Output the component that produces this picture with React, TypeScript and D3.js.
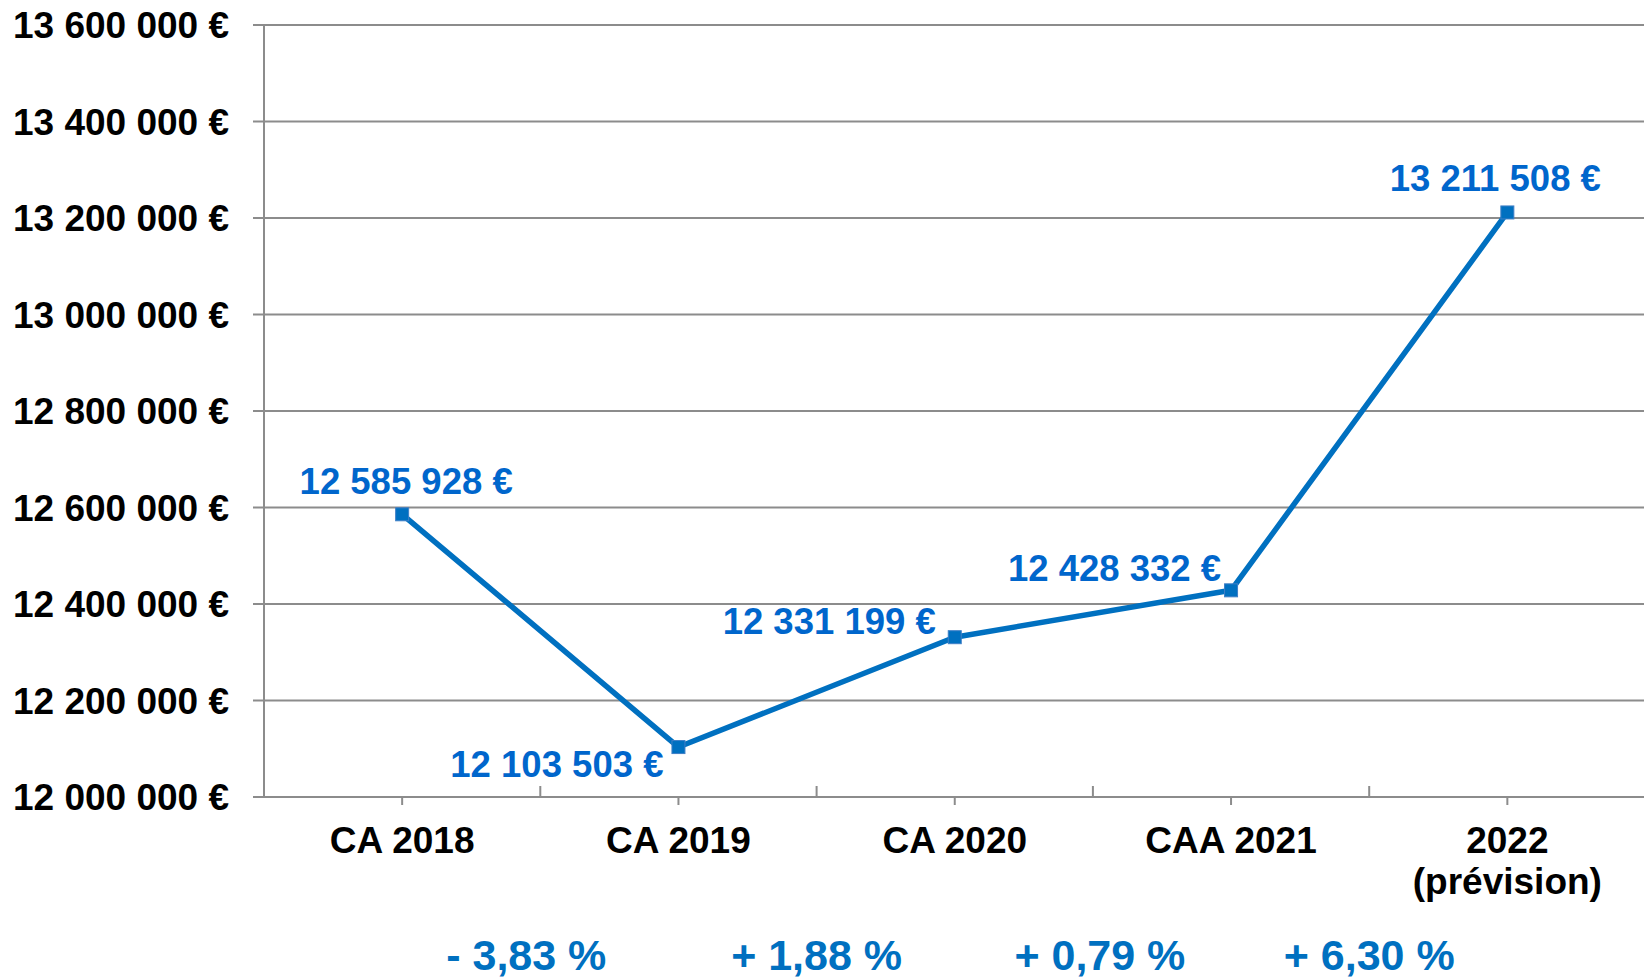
import React from "react";
import * as d3 from "d3";

const categories: string[][] = [["CA 2018"], ["CA 2019"], ["CA 2020"], ["CAA 2021"], ["2022", "(prévision)"]];
const values: number[] = [12585928, 12103503, 12331199, 12428332, 13211508];
const yTicks: number[] = [12000000, 12200000, 12400000, 12600000, 12800000, 13000000, 13200000, 13400000, 13600000];
const labelPlacement: string[] = ["above", "belowLeft", "left", "leftHigh", "aboveLeft"];

const W = 1644;
const H = 979;
const left = 264;
const right = 1645.5;
const top = 25;
const bottom = 797;
const FONT = "'Liberation Sans', Arial, Helvetica, sans-serif";
const GRID = "#8c8c8c";
const BLUE = "#0070C0";
const LABEL_BLUE = "#0066CC";

const fmt = (v: number) => d3.format(",")(v).replace(/,/g, " ") + " €";
const fmtPct = (p: number) => (p < 0 ? "- " : "+ ") + Math.abs(p).toFixed(2).replace(".", ",") + " %";

// small per-label horizontal nudges for the variation labels (layout only)
const pctNudge = [-14, 0, 7, 0];

export default function App() {
  const keys = categories.map((c) => c.join(" "));
  const x = d3.scaleBand<string>().domain(keys).range([left, right]).padding(0);
  const y = d3.scaleLinear().domain([12000000, 13600000]).range([bottom, top]);
  const cx = (i: number) => (x(keys[i]) as number) + x.bandwidth() / 2;
  const line = d3
    .line<number>()
    .x((_, i) => cx(i))
    .y((d) => y(d));
  const pcts = values.slice(1).map((v, i) => (v / values[i] - 1) * 100);
  const boundaries = keys.map((k) => (x(k) as number) + x.bandwidth());

  return (
    <svg width={W} height={H} style={{ position: "absolute", left: 0, top: 0, background: "#fff" }} fontFamily={FONT} fontWeight="bold">
      {yTicks.map((t) => (
        <g key={t}>
          <line x1={253} x2={W} y1={y(t)} y2={y(t)} stroke={GRID} strokeWidth={2} />
          <text x={229} y={y(t)} dy="0.36em" textAnchor="end" fontSize={37} fill="#000">
            {fmt(t)}
          </text>
        </g>
      ))}
      <line x1={left} x2={left} y1={top} y2={bottom} stroke={GRID} strokeWidth={2} />
      {boundaries.map((b, i) => (
        <line key={"b" + i} x1={b} x2={b} y1={bottom} y2={bottom - 11} stroke={GRID} strokeWidth={2} />
      ))}
      {keys.map((k, i) => (
        <line key={"c" + i} x1={cx(i)} x2={cx(i)} y1={bottom} y2={bottom + 8} stroke={GRID} strokeWidth={2} />
      ))}
      {categories.map((c, i) => (
        <text key={"cl" + i} x={cx(i)} y={853} textAnchor="middle" fontSize={37} fill="#000">
          {c.map((ln, j) => (
            <tspan key={j} x={cx(i)} dy={j === 0 ? 0 : 41}>
              {ln}
            </tspan>
          ))}
        </text>
      ))}
      <path d={line(values) || ""} fill="none" stroke={BLUE} strokeWidth={5.5} strokeLinejoin="round" />
      {values.map((v, i) => (
        <rect key={"m" + i} x={cx(i) - 6.5} y={y(v) - 6.5} width={13} height={13} fill={BLUE} stroke="#3f7fc6" strokeWidth={1} />
      ))}
      {values.map((v, i) => {
        const p = labelPlacement[i];
        let tx = cx(i);
        let ty = y(v);
        let anchor: "middle" | "end" = "middle";
        if (p === "above") {
          ty = y(v) - 20;
          tx = cx(i) + 4;
        } else if (p === "belowLeft") {
          anchor = "end";
          tx = cx(i) - 15;
          ty = y(v) + 30;
        } else if (p === "left") {
          anchor = "end";
          tx = cx(i) - 19;
          ty = y(v) - 3;
        } else if (p === "leftHigh") {
          anchor = "end";
          tx = cx(i) - 10;
          ty = y(v) - 9;
        } else if (p === "aboveLeft") {
          tx = cx(i) - 12;
          ty = y(v) - 21;
        }
        return (
          <text key={"dl" + i} x={tx} y={ty} textAnchor={anchor} fontSize={36.5} fill={LABEL_BLUE}>
            {fmt(v)}
          </text>
        );
      })}
      {pcts.map((p, i) => (
        <text key={"p" + i} x={(cx(i) + cx(i + 1)) / 2 + pctNudge[i]} y={970} textAnchor="middle" fontSize={43} fill={BLUE}>
          {fmtPct(p)}
        </text>
      ))}
    </svg>
  );
}
